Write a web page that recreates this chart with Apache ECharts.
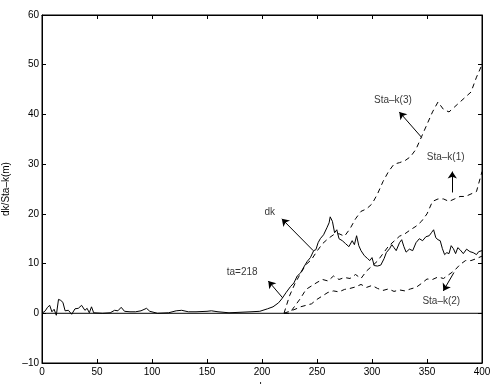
<!DOCTYPE html>
<html>
<head>
<meta charset="utf-8">
<script src="https://cdn.jsdelivr.net/npm/echarts@6/dist/echarts.min.js"></script>
<style>
html, body { margin: 0; padding: 0; background: #fff; overflow: hidden; }
#main { width: 490px; height: 384px; }
</style>
</head>
<body>
<div id="main"></div>
<script>
// dk 实线
var dkK = [0,3,5,7,9,11,13,15,17,19,21,24,27,30,33,36,37,39,41,43,45,47,55,62,66,69,72,75,80,85,90,95,98,105,115,122,127,133,140,150,154,160,170,180,190,198,205,210,215,218,222,226,229,232,235,238,241,244,247,249,251,253,256,259,261,262,264,266,268,270,273,276,279,282,284,286,288,290,293,296,298,300,302,305,308,311,313,316,318,320,322,325,327,329,331,334,337,340,343,346,349,352,354,356,358,360,362,364,366,368,370,372,374,376,378,380,383,386,389,392,395,397,400];
var dkV = [0,0.5,1.2,1.6,0.3,0.8,-0.4,2.8,2.6,2.2,0.5,0.6,-0.2,0.9,1.0,1.6,2.0,0.6,1.0,0.1,1.3,0.1,0,0.1,0.6,0.5,1.2,0.4,0.3,0.3,0.5,1.0,0.4,0,0.1,0.5,0.6,0.3,0.3,0.4,0.5,0.3,0.1,0.2,0.3,0.4,0.9,1.3,2.1,2.9,4.2,5.4,6.1,7.5,8.1,9.3,10.4,11.2,12.6,12.8,14.2,15.0,15.8,17.2,18.2,19.4,18.5,16.2,16.8,15.0,14.6,14.0,13.4,14.6,13.8,15.6,13.6,12.6,11.6,11.0,10.6,11.2,9.6,9.5,9.7,11.0,12.2,13.0,13.8,13.2,12.6,14.2,14.8,13.4,12.3,12.9,12.6,14.2,15.0,14.6,15.4,15.6,16.2,16.8,15.2,14.8,14.6,13.0,11.8,12.2,12.0,13.6,13.0,12.0,13.2,12.8,12.0,12.9,12.4,12.2,11.8,12.4,12.6];

// Sta-k 虚线
var staK = [220,225,230,235,240,245,250,255,260,265,270,275,280,285,290,295,300,305,310,315,320,325,330,335,340,345,350,355,360,365,370,375,380,385,390,395,400];
var sta1V = [0,0,1.5,3,4.8,5.5,6.2,6.8,6.5,7.5,6.8,7.2,7,7.8,7,8.5,9.5,10.5,12,13.5,14.5,15.5,16,16.8,17.5,18.5,20,22.5,23,23,22.5,23,23.5,23.5,24,24.5,28.5];
var sta2V = [0,0.4,0.8,1.3,1.6,1.9,2.8,3.5,4.2,4.5,4.3,4.8,5,5.3,5.8,5.2,5.6,5,4.6,4.9,4.4,4.7,4.5,4.9,5.2,6,6.9,6.8,7.3,7,7.8,8.6,9.8,10.6,10.6,11,11.5];
var sta3V = [0,3.5,6,8,9.8,10.8,12.5,14,15,15.8,16,15.5,17,19,20.5,21,22,24,26.5,28.5,30,30.3,30.7,31.5,33,35.5,38,40.5,42.5,41,40.5,41.5,42.5,43.5,44.5,47.5,50];

// 零线
var zeroK = [0, 400];
var zeroV = [0, 0];

// 标注: 文字位置, 箭头起点 -> 箭头终点
var noteText = ['dk', 'ta=218', 'Sta\u2013k(3)', 'Sta\u2013k(1)', 'Sta\u2013k(2)'];
var notePos = [[207,20.4],[182,8.3],[319,42.8],[367,31.3],[363,2.5]];
var arrowFrom = [[246.6,12.6],[218.8,3.1],[345,35.4],[373,24.3],[374.5,8.2]];
var arrowTo = [[218,19],[205.7,6.5],[324.8,40.5],[373,28.5],[364.8,4.5]];

function pairs(ks, vs){
    var out = [];
    for(var i = 0; i < ks.length; i++){
        out.push([ks[i], vs[i]]);
    }
    return out;
}

var FONT = 'Liberation Sans';
var chart = echarts.init(document.getElementById('main'), null, {renderer: 'canvas'});

var axisX = function(pos, show){
    return {
        type: 'value', position: pos, min: 0, max: 400, interval: 50,
        axisLine: {show: true, onZero: false, lineStyle: {color: '#000', width: 1}},
        axisTick: {show: true, inside: true, length: 4, lineStyle: {color: '#000'}},
        axisLabel: {show: show, color: '#000', fontFamily: FONT, fontSize: 10, margin: 4},
        splitLine: {show: false},
        name: show ? 'k' : '', nameLocation: 'middle', nameGap: 19,
        nameTextStyle: {color: '#000', fontFamily: FONT, fontSize: 10}
    };
};
var axisY = function(pos, show){
    return {
        type: 'value', position: pos, min: -10, max: 60, interval: 10,
        axisLine: {show: true, onZero: false, lineStyle: {color: '#000', width: 1}},
        axisTick: {show: true, inside: true, length: 4, lineStyle: {color: '#000'}},
        axisLabel: {show: show, color: '#000', fontFamily: FONT, fontSize: 10, margin: 3,
            formatter: function(v){ return (v + '').replace('-', '\u2013'); }},
        splitLine: {show: false},
        name: show ? 'dk/Sta\u2013k(m)' : '', nameLocation: 'middle', nameGap: 28, nameRotate: 90,
        nameTextStyle: {color: '#000', fontFamily: FONT, fontSize: 10}
    };
};

var arrowLines = [];
for(var i = 0; i < arrowFrom.length; i++){
    arrowLines.push([{coord: arrowFrom[i]}, {coord: arrowTo[i]}]);
}
var notes = [];
for(var j = 0; j < noteText.length; j++){
    notes.push({name: noteText[j], value: notePos[j]});
}

var dashed = {color: '#000', width: 1, type: [5, 4]};

chart.setOption({
    animation: false,
    backgroundColor: '#fff',
    grid: {left: 42, right: 8, top: 15, bottom: 21, containLabel: false,
        outerBoundsMode: 'none',
        show: true, borderColor: '#000', borderWidth: 1, backgroundColor: 'rgba(0,0,0,0)'},
    xAxis: [axisX('bottom', true), axisX('top', false)],
    yAxis: [axisY('left', true), axisY('right', false)],
    series: [
        {
            name: 'zero', type: 'line', data: pairs(zeroK, zeroV), showSymbol: false,
            xAxisIndex: 1, yAxisIndex: 1,
            lineStyle: {color: '#000', width: 1}, z: 1
        },
        {
            name: 'dk', type: 'line', data: pairs(dkK, dkV), showSymbol: false,
            lineStyle: {color: '#000', width: 1}, z: 5
        },
        {name: 'Sta-k(1)', type: 'line', data: pairs(staK, sta1V), showSymbol: false, lineStyle: dashed},
        {name: 'Sta-k(2)', type: 'line', data: pairs(staK, sta2V), showSymbol: false, lineStyle: dashed},
        {name: 'Sta-k(3)', type: 'line', data: pairs(staK, sta3V), showSymbol: false, lineStyle: dashed},
        {
            name: 'notes', type: 'scatter', data: notes, symbolSize: 1,
            itemStyle: {color: 'rgba(0,0,0,0)'},
            label: {show: true, position: 'inside', formatter: '{b}', color: '#000',
                fontFamily: FONT, fontSize: 10},
            markLine: {
                silent: true, symbol: ['none', 'arrow'], symbolSize: 7,
                label: {show: false},
                lineStyle: {color: '#000', width: 1, type: 'solid'},
                data: arrowLines
            }
        }
    ]
});
</script>
</body>
</html>
